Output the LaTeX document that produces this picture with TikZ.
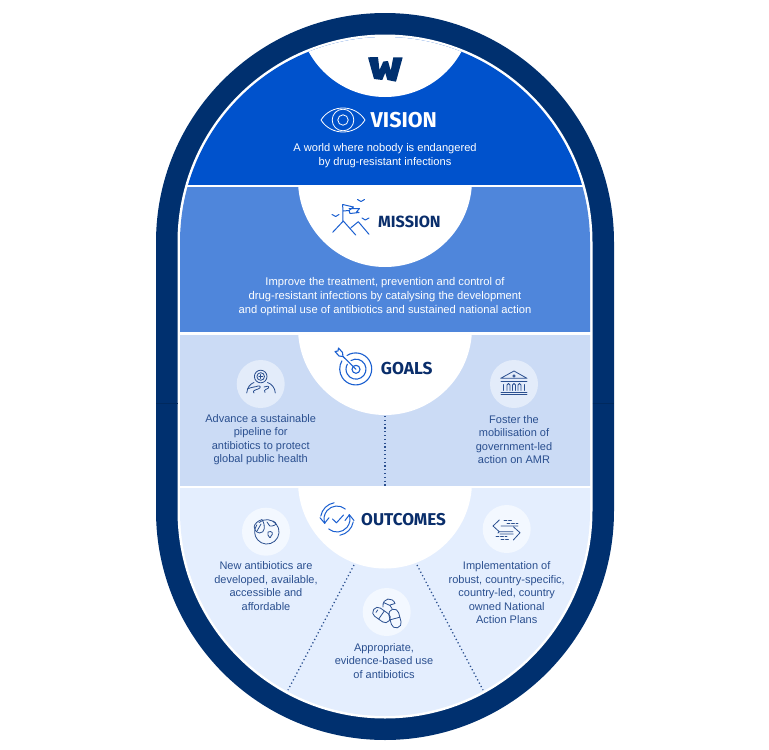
\documentclass[tikz,border=0pt]{standalone}
\usepackage{fontspec}
\setmainfont{Liberation Sans}
\newfontfamily\headfont{Fira Sans}
\definecolor{ringc}{HTML}{00306F}
\definecolor{visionc}{HTML}{0052CC}
\definecolor{missionc}{HTML}{4F86DB}
\definecolor{goalsc}{HTML}{CBDBF5}
\definecolor{outc}{HTML}{E4EEFE}
\definecolor{inkc}{HTML}{2A4F8F}
\definecolor{headc}{HTML}{0A2E6B}
\definecolor{iconb}{HTML}{1A5FD0}
\definecolor{discg}{HTML}{E3ECFA}
\definecolor{disco}{HTML}{F3F8FF}
\tikzset{
  x=1pt,y=-1pt,
  body/.style={font=\fontsize{11}{13.5}\selectfont,align=center,inner sep=0pt,text=inkc},
  bodyw/.style={font=\fontsize{11.1}{14}\selectfont,align=center,inner sep=0pt,text=white},
  head/.style={font=\headfont\bfseries\fontsize{17.3}{18}\selectfont,inner sep=0pt,text=headc,anchor=west},
  disc/.style={circle,minimum size=48pt,inner sep=0pt},
  dotline/.style={draw=inkc,line width=1.3pt,dash pattern=on 1.2pt off 2.6pt},
  iconw/.style={draw=white,line width=0.8pt,line cap=round,line join=round},
  icona/.style={draw=iconb,line width=1pt,line cap=round,line join=round},
  icons/.style={draw=inkc,line width=0.8pt,line cap=round,line join=round},
}
\begin{document}
\begin{tikzpicture}
\useasboundingbox (0,0) rectangle (769,750);
\fill[ringc] (156,242) arc[start angle=180,end angle=0,radius=229pt] -- (614,511) arc[start angle=0,end angle=-180,radius=229pt] -- cycle;
\fill[white] (177.5,242) arc[start angle=180,end angle=0,radius=207.5pt] -- (592.5,511) arc[start angle=0,end angle=-180,radius=207.5pt] -- cycle;
\draw[ringc!85!black,line width=0.6pt] (156,403) -- (177.5,403) (592.5,403) -- (614,403);
\begin{scope}
\clip (180,242) arc[start angle=180,end angle=0,radius=205pt] -- (590,511) arc[start angle=0,end angle=-180,radius=205pt] -- cycle;
\fill[visionc] (170,20) rectangle (600,185);
\fill[missionc] (170,187) rectangle (600,332.4);
\fill[goalsc] (170,334.6) rectangle (600,485.8);
\fill[outc] (170,488.4) rectangle (600,730);
\begin{scope}\clip (170,20) rectangle (600,185); \fill[white] (385,10) circle[radius=87pt]; \end{scope}
\begin{scope}\clip (170,186) rectangle (600,332.4); \fill[white] (385,180) circle[radius=87pt]; \end{scope}
\begin{scope}\clip (170,333) rectangle (600,485.8); \fill[white] (385,328) circle[radius=87pt]; \end{scope}
\begin{scope}\clip (170,487) rectangle (600,730); \fill[white] (385,481.5) circle[radius=87pt]; \end{scope}
\end{scope}
% W logo
\fill[ringc,rounded corners=0.4pt] (368,57.3) -- (378,57) -- (379.5,70) -- (383.3,61.5) -- (388,61) -- (390.7,70.7) -- (393.3,57.3) -- (402.7,57.3) -- (396,81.7) -- (387.3,80) -- (385.3,72.7) -- (382.3,80) -- (374,79) -- cycle;
% eye
\draw[iconw] (321,120) .. controls (331,104) and (355,104) .. (365,120) .. controls (355,136) and (331,136) .. (321,120) -- cycle;
\draw[iconw] (343,120) circle[radius=5.2pt];
\draw[iconw] (343,120) circle[radius=10.8pt];
\node[head,text=white,font=\headfont\bfseries\fontsize{21.5}{22}\selectfont] (vision) at (370.5,120) {VISION};
\node[bodyw] (visiontext) at (385,156) {A world where nobody is endangered\\by drug-resistant infections};
% mission icon
\draw[icona] (332.7,232.3) -- (343.3,221) -- (355.7,235) (351,227.7) -- (358.3,221.7) -- (369,234.3);
\draw[icona] (343,221) -- (342.7,204.5) -- (353.5,207) -- (349,210.5) -- (343,211);
\draw[icona] (349,208.5) -- (359.5,208.5) -- (356.5,212) -- (359,212.5) -- (350,213.5) -- (349,210.5);
\draw[icona] (332,214.5) -- (335.7,216.5) -- (339,214.5) (357.5,199.5) -- (361,201.5) -- (364.5,199.5) (362,218) -- (365.3,220) -- (369,218);
\node[head,font=\headfont\bfseries\fontsize{16.2}{18}\selectfont] (mission) at (378,222) {MISSION};
\node[bodyw,font=\fontsize{11.2}{14}\selectfont] (missiontext) at (385,297) {Improve the treatment, prevention and control of\\drug-resistant infections by catalysing the development\\and optimal use of antibiotics and sustained national action};
% goals icon
\draw[icona,line width=1.1pt] (347,355.5) arc[start angle=123,end angle=-210,radius=16pt];
\draw[icona,line width=1.1pt] (351,360.5) arc[start angle=120,end angle=-210,radius=10pt];
\draw[icona,line width=1.1pt] (356,369.3) circle[radius=4pt];
\draw[icona,line width=1.1pt] (356,369.3) -- (343,356.5);
\draw[icona,line width=1.1pt] (343,356.5) -- (339,356) -- (335,351.5) -- (338,351) -- (338.5,348) -- (342.5,352.5) -- cycle;
\node[head] (goals) at (380.7,369) {GOALS};
\node[disc,fill=discg] (g1disc) at (260.7,384) {};
\node[disc,fill=discg] (g2disc) at (514,384) {};
% pipeline icon
\draw[icons] (260.7,376.5) circle[radius=6.3pt];
\draw[icons] (260.7,376.5) circle[radius=3.8pt];
\draw[icons] (260.7,374.5) -- (260.7,378.5) (258.7,376.5) -- (262.7,376.5);
\draw[icons] (246.7,393) .. controls (247.5,387) and (250,384) .. (254,382.5) (267.5,382.5) .. controls (272,384) and (275,388) .. (275.3,393);
\draw[icons] (247.5,389) .. controls (251,387) and (256,387) .. (258,386) .. controls (261,385.5) and (261,388) .. (258,389) .. controls (255,390) and (252,391) .. (254,393);
\draw[icons] (265,392.5) .. controls (263,389) and (267,390) .. (268.5,388) .. controls (270,386) and (266,385.5) .. (264,387);
\node[body] (g1text) at (260.7,439.5) {Advance a sustainable\\pipeline for\\antibiotics to protect\\global public health};
% bank icon
\draw[icons] (500.7,378.3) -- (514,371) -- (527,378.3) -- cycle;
\draw[icons] (514,376) circle[radius=1.2pt];
\draw[icons] (501,381) -- (527,381) (501,392.6) -- (527,392.6) (501,394.8) -- (527,394.8);
\draw[icons] (503.5,390.5) -- (503.5,384.5) (507,390.5) -- (507,385) arc[start angle=180,end angle=0,radius=1.5pt] -- (510,390.5) (512.5,390.5) -- (512.5,385) arc[start angle=180,end angle=0,radius=1.5pt] -- (515.5,390.5) (518,390.5) -- (518,385) arc[start angle=180,end angle=0,radius=1.5pt] -- (521,390.5) (524.5,390.5) -- (524.5,384.5);
\node[body] (g2text) at (514,439.5) {Foster the\\mobilisation of\\government-led\\action on AMR};
% outcomes icon
\coordinate (oc) at (337,519);
\draw[icona] (oc) ++(100:16.5pt) arc[start angle=100,delta angle=70,radius=16.5pt];
\draw[icona] (oc) ++(280:16.5pt) arc[start angle=280,delta angle=70,radius=16.5pt];
\draw[icona] (oc) ++(50:13pt) arc[start angle=50,delta angle=150,radius=13pt];
\draw[icona] (oc) ++(230:13pt) arc[start angle=230,delta angle=150,radius=13pt];
\draw[icona] (320,517.7) -- (324.6,523.2) -- (329,517.7);
\draw[icona] (345,520.5) -- (349.4,514.8) -- (354,520.5);
\draw[icona] (332.5,519) -- (336.5,522.8) -- (343.5,515);
\node[head,font=\headfont\bfseries\fontsize{17.1}{18}\selectfont] (outcomes) at (361,520) {OUTCOMES};
\node[disc,fill=disco] (o1disc) at (266,531.7) {};
\node[disc,fill=disco] (o2disc) at (386.7,612) {};
\node[disc,fill=disco] (o3disc) at (506.7,529) {};
% globe icon
\draw[icons] (259,522.5) arc[start angle=130,end angle=-215,radius=12.2pt];
\draw[icons] (259.5,533) .. controls (252,531) and (252,523) .. (262,519.5) .. controls (266,526) and (265,533) .. (259.5,533) -- cycle;
\draw[icons] (257,531) -- (261,524);
\draw[icons] (267,522) .. controls (270,524) and (268,527) .. (272,526) .. controls (277,525) and (277,523) .. (273,521);
\draw[icons] (268,532) .. controls (272,530) and (274,534) .. (271,536) .. controls (271,539) and (268,537) .. (268,535) -- cycle;
\node[body] (o1text) at (266,586) {New antibiotics are\\developed, available,\\accessible and\\affordable};
% pills icon
\begin{scope}[shift={(381.5,615)},rotate=-35]
\draw[icons,rounded corners=4.6pt] (-9.5,-5) rectangle (9.5,5);
\draw[icons] (0,-5) -- (0,5);
\draw[icons] (-6,-2) -- (-6,1);
\end{scope}
\begin{scope}[shift={(395,618.5)},rotate=15]
\draw[icons,rounded corners=4.8pt] (-5,-9.5) rectangle (5,9.5);
\draw[icons] (-5,0) -- (5,0);
\end{scope}
\draw[icons] (383,607) .. controls (382,597) and (393,597) .. (395,603.5) -- (390,605) (383.5,602.5) -- (390,605.5) -- (392,608.5);
\node[body] (o2text) at (384,661) {Appropriate,\\evidence-based use\\of antibiotics};
% arrows icon
\draw[icons] (518,526) -- (501,526) (499.3,520) -- (493,526) -- (499.3,531.7) -- (498,533) (499.3,531.7) -- (513,531.7);
\draw[icons] (513.3,526.7) -- (520,532.7) -- (513.3,540) (513.3,534) -- (500,534);
\draw[icons,dash pattern=on 3pt off 1.5pt] (504,520) -- (512,520) (507,523) -- (518,523) (496,536) -- (507,536) (501,539) -- (510,539);
\node[body] (o3text) at (506.7,593) {Implementation of\\robust, country-specific,\\country-led, country\\owned National\\Action Plans};
% dotted connectors
\coordinate (gtop) at (385,416);
\coordinate (gbot) at (385,486);
\coordinate (ol1) at (354,565);
\coordinate (ol2) at (288,690);
\coordinate (or1) at (417,565);
\coordinate (or2) at (483,690);
\path[dotline] (gtop) -- (gbot);
\path[dotline] (ol1) -- (ol2);
\path[dotline] (or1) -- (or2);
\end{tikzpicture}
\end{document}
